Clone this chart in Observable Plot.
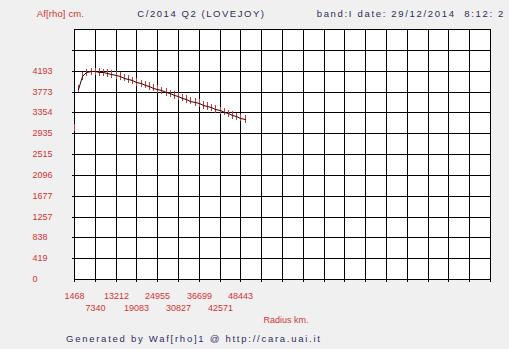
<!DOCTYPE html>
<html>
<head>
<meta charset="utf-8">
<script src="https://cdn.jsdelivr.net/npm/d3@7"></script>
<script src="https://cdn.jsdelivr.net/npm/@observablehq/plot@0.6"></script>
<style>
  html, body { margin: 0; padding: 0; background: #f0f0f0; }
  #wrap { position: relative; width: 509px; height: 349px; background: #f0f0f0; overflow: hidden; }
  #chart { position: absolute; left: 0; top: 0; }
  .t { position: absolute; white-space: pre; font-family: "Liberation Sans", Arial, sans-serif; font-size: 9.5px; line-height: 12px; }
</style>
</head>
<body>
<div id="wrap">
  <div id="chart"></div>
  <div class="t" data-x="36.7" data-y="14" data-w="47.3" style="color:#d23434">Af[rho] cm.</div>
  <div class="t" data-x="137.3" data-y="14" data-w="126.7" style="color:#2e2e58">C/2014 Q2 (LOVEJOY)</div>
  <div class="t" data-x="316.7" data-y="14" data-w="186.7" style="color:#2e2e58">band:I date: 29/12/2014  8:12: 2</div>
  <div class="t" data-x="66" data-y="339.3" data-w="254" style="color:#2e2e66">Generated by Waf[rho]1 @ http://cara.uai.it</div>
</div>
<script>
// ---- data ----
const radiusKm = [1468, 2642, 3817, 4991, 6166, 7340, 8514, 9689, 10863, 12038,
  13212, 14386, 15561, 16735, 17909, 19083, 20258, 21432, 22607, 23781,
  24955, 26130, 27304, 28478, 29653, 30827, 32001, 33176, 34350, 35525,
  36699, 37873, 39048, 40222, 41397, 42571, 43745, 44920, 46094, 47269,
  48443, 49617];
const afRho = [3050, 3830, 4090, 4160, 4180, 4178, 4170, 4160, 4145, 4125,
  4105, 4082, 4055, 4025, 3998, 3968, 3940, 3910, 3880, 3850,
  3825, 3795, 3768, 3738, 3706, 3680, 3652, 3622, 3590, 3566,
  3540, 3505, 3480, 3452, 3420, 3392, 3366, 3334, 3304, 3276,
  3248, 3218];
const afErr = 75;
const xTickLabels = [1468, 7340, 13212, 19083, 24955, 30827, 36699, 42571, 48443];
const yTickLabels = [0, 419, 838, 1257, 1677, 2096, 2515, 2935, 3354, 3773, 4193];
const xTitle = "Radius km.";

// grid derived from tick labels
const xStep = (xTickLabels[xTickLabels.length - 1] - xTickLabels[0]) / (xTickLabels.length - 1);
const yStep = yTickLabels[yTickLabels.length - 1] / (yTickLabels.length - 1);
const xGrid = d3.range(21).map(i => xTickLabels[0] + i * xStep);
const yGrid = d3.range(13).map(i => i * yStep);

const data = radiusKm.map((r, i) => ({r, v: afRho[i], lo: afRho[i] - afErr, hi: afRho[i] + afErr}));
const red = "#d23434";

const chart = Plot.plot({
  width: 509,
  height: 349,
  marginLeft: 74,
  marginRight: 19,
  marginTop: 29,
  marginBottom: 70,
  x: {domain: [xGrid[0], xGrid[xGrid.length - 1]], round: true},
  y: {domain: [0, yGrid[yGrid.length - 1]], round: true},
  style: {background: "transparent", fontFamily: "Liberation Sans, Arial, sans-serif", fontSize: "9px"},
  marks: [
    Plot.frame({fill: "white"}),
    Plot.ruleX(xGrid, {stroke: "black", strokeWidth: 1}),
    Plot.ruleY(yGrid, {stroke: "black", strokeWidth: 1}),
    Plot.axisX({ticks: xGrid, tickSize: 3, tickFormat: () => "", stroke: "black", label: null}),
    Plot.axisY({ticks: yGrid.slice(1, 12), tickSize: 2, tickFormat: () => "", stroke: "black", label: null}),
    Plot.ruleX(data, {x: "r", y1: "lo", y2: "hi", stroke: red, strokeWidth: 1}),
    Plot.line(data, {x: "r", y: "v", filter: (d, i) => i > 0, stroke: "#1a0a0a", strokeWidth: 1}),
    Plot.text(yTickLabels, {y: d => d, text: d => String(d), frameAnchor: "left", textAnchor: "start", dx: -42, fill: red}),
    Plot.text(xTickLabels, {x: d => d, text: d => String(d), frameAnchor: "bottom", dy: 19, fill: red, filter: (d, i) => i % 2 === 0}),
    Plot.text(xTickLabels, {x: d => d, text: d => String(d), frameAnchor: "bottom", dy: 31.5, fill: red, filter: (d, i) => i % 2 === 1}),
    Plot.text([xTitle], {text: d => d, frameAnchor: "bottom-left", textAnchor: "start", dx: 189, dy: 43, fill: red})
  ]
});
document.getElementById("chart").appendChild(chart);

// position header/footer text, spacing letters to the widths seen in the reference
document.querySelectorAll(".t").forEach(el => {
  const x = +el.dataset.x, y = +el.dataset.y, w = +el.dataset.w;
  el.style.left = x + "px";
  el.style.top = (y - 6.5) + "px";
  const natural = el.getBoundingClientRect().width;
  const n = el.textContent.length;
  const ls = (w - natural) / (n - 1);
  el.style.letterSpacing = ls + "px";
});
</script>
</body>
</html>
